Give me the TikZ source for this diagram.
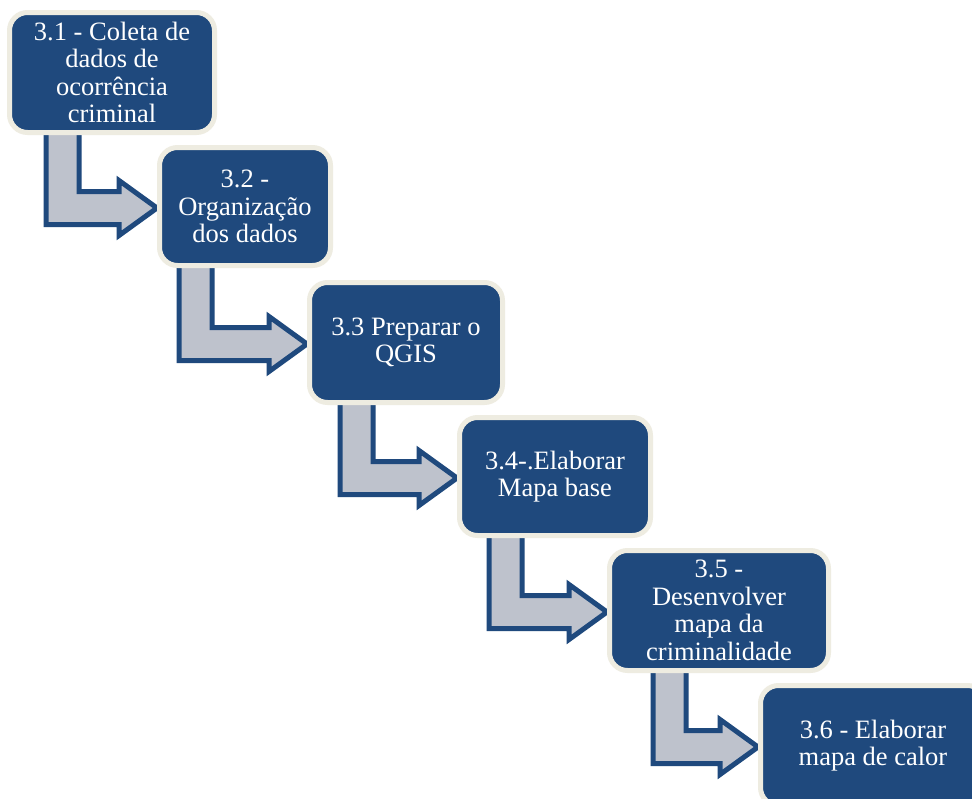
\documentclass[tikz,border=0pt]{standalone}
\usepackage{fontspec}
\setmainfont{Liberation Serif}
\usepackage{tikz}
\usetikzlibrary{calc,backgrounds}
\definecolor{stepblue}{RGB}{31,73,125}
\definecolor{stepcream}{RGB}{238,236,225}
\definecolor{arrowgray}{RGB}{190,194,204}

\begin{document}
\begin{tikzpicture}[x=1pt,y=-1pt,
  etapa/.style={rectangle,rounded corners=18pt,fill=stepblue,draw=stepcream,line width=5pt,
    text=white,align=center,inner sep=0pt,font=\fontsize{26.5}{27.5}\selectfont},
  seta/.style={fill=arrowgray,draw=stepblue,line width=5pt,line join=miter}]
\useasboundingbox (0,0) rectangle (972,798);
% etapas
\node[etapa,minimum width=205pt,minimum height=120pt] (e1) at (112,72.5) {3.1 - Coleta de\\dados de\\ocorrência\\criminal};
\node[etapa,minimum width=171pt,minimum height=118pt] (e2) at (245,206.5) {3.2 -\\Organização\\dos dados};
\node[etapa,minimum width=193pt,minimum height=120pt] (e3) at (406,342.5) {3.3 Preparar o\\QGIS};
\node[etapa,minimum width=191pt,minimum height=118pt] (e4) at (555,476.5) {3.4-.Elaborar\\Mapa base};
\node[etapa,minimum width=219pt,minimum height=120pt] (e5) at (719,610.5) {3.5 -\\Desenvolver\\mapa da\\criminalidade};
\node[etapa,minimum width=225pt,minimum height=120pt] (e6) at (873,745.5) {3.6 - Elaborar\\mapa de calor};
% setas
\begin{scope}[on background layer]
\fill[white] (0,0) rectangle (972,798);
\foreach \a/\b in {e1/e2,e2/e3,e3/e4,e4/e5,e5/e6}
  \draw[seta] let \p1=(\a.south), \p2=($(\b.west)+(0,1.5)$) in
    (\x1-66pt,\y1+6pt) -- (\x1-66pt,\y2-16.5pt) -- (\x2-38pt,\y2-16.5pt)
    -- (\x2-38pt,\y2-27.5pt) -- (\x2,\y2) -- (\x2-38pt,\y2+27.5pt) -- (\x2-38pt,\y2+16.5pt)
    -- (\x1-33pt,\y2+16.5pt) -- (\x1-33pt,\y1+6pt) -- cycle;
\end{scope}
\end{tikzpicture}
\end{document}
